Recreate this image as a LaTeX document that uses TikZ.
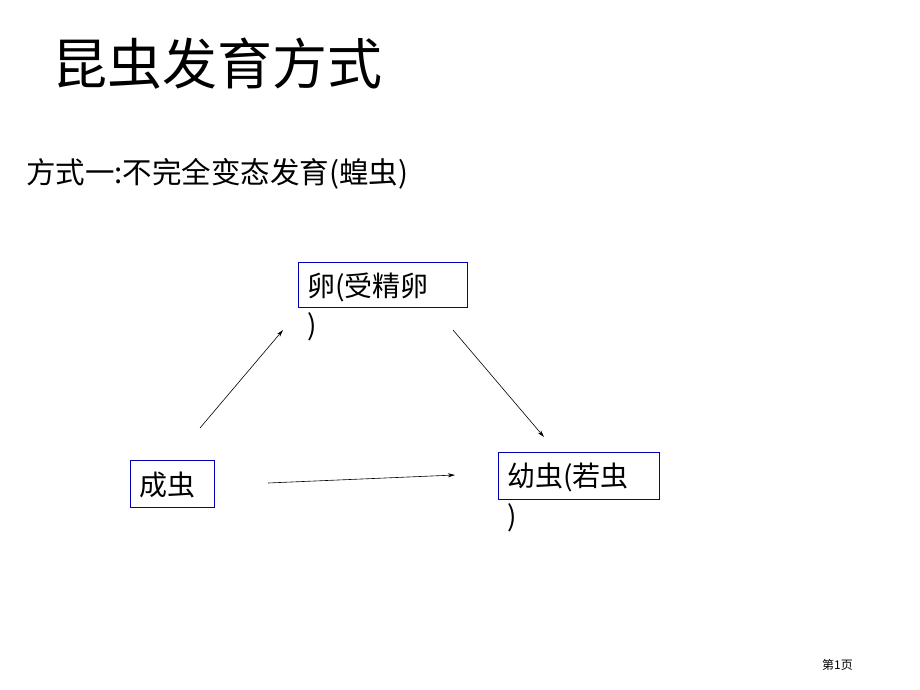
\documentclass[tikz,border=0pt]{standalone}
\usepackage{fontspec}
\setmainfont{Noto Sans CJK SC}
\usetikzlibrary{arrows.meta}
\begin{document}
\begin{tikzpicture}[x=1pt,y=-1pt,
  lbl/.style={anchor=west,inner sep=0pt,font=\fontsize{28}{28}\selectfont},
  arr/.style={-{Stealth[length=7pt,width=4pt]},line width=0.6pt}]
\useasboundingbox (0,0) rectangle (920,690);
\node[anchor=west,inner sep=0pt,font=\fontsize{55}{55}\selectfont] (title) at (52,64) {昆虫发育方式};
\node[anchor=west,inner sep=0pt,font=\fontsize{29.5}{29.5}\selectfont] (sub) at (26,174) {方式一:不完全变态发育(蝗虫)};
\draw[blue!70!black,line width=0.8pt] (298,262) rectangle (467,307);
\node[lbl] (egg) at (307,287) {卵(受精卵};
\node[lbl] (egg2) at (307,327) {)};
\draw[blue!70!black,line width=0.8pt] (130,460) rectangle (214,507);
\node[lbl] (adult) at (139,485) {成虫};
\draw[blue!70!black,line width=0.8pt] (498,452) rectangle (659,499);
\node[lbl] (nymph) at (507,477) {幼虫(若虫};
\node[lbl] (nymph2) at (507,518) {)};
\coordinate (a1) at (200,428); \coordinate (a2) at (283,330);
\coordinate (b1) at (453,330); \coordinate (b2) at (544,437);
\coordinate (c1) at (268,483); \coordinate (c2) at (455,475);
\draw[arr] (a1) -- (a2);
\draw[arr] (b1) -- (b2);
\draw[arr] (c1) -- (c2);
\node[anchor=west,inner sep=0pt,font=\fontsize{12}{12}\selectfont] (foot) at (822,665) {第1页};
\end{tikzpicture}
\end{document}
